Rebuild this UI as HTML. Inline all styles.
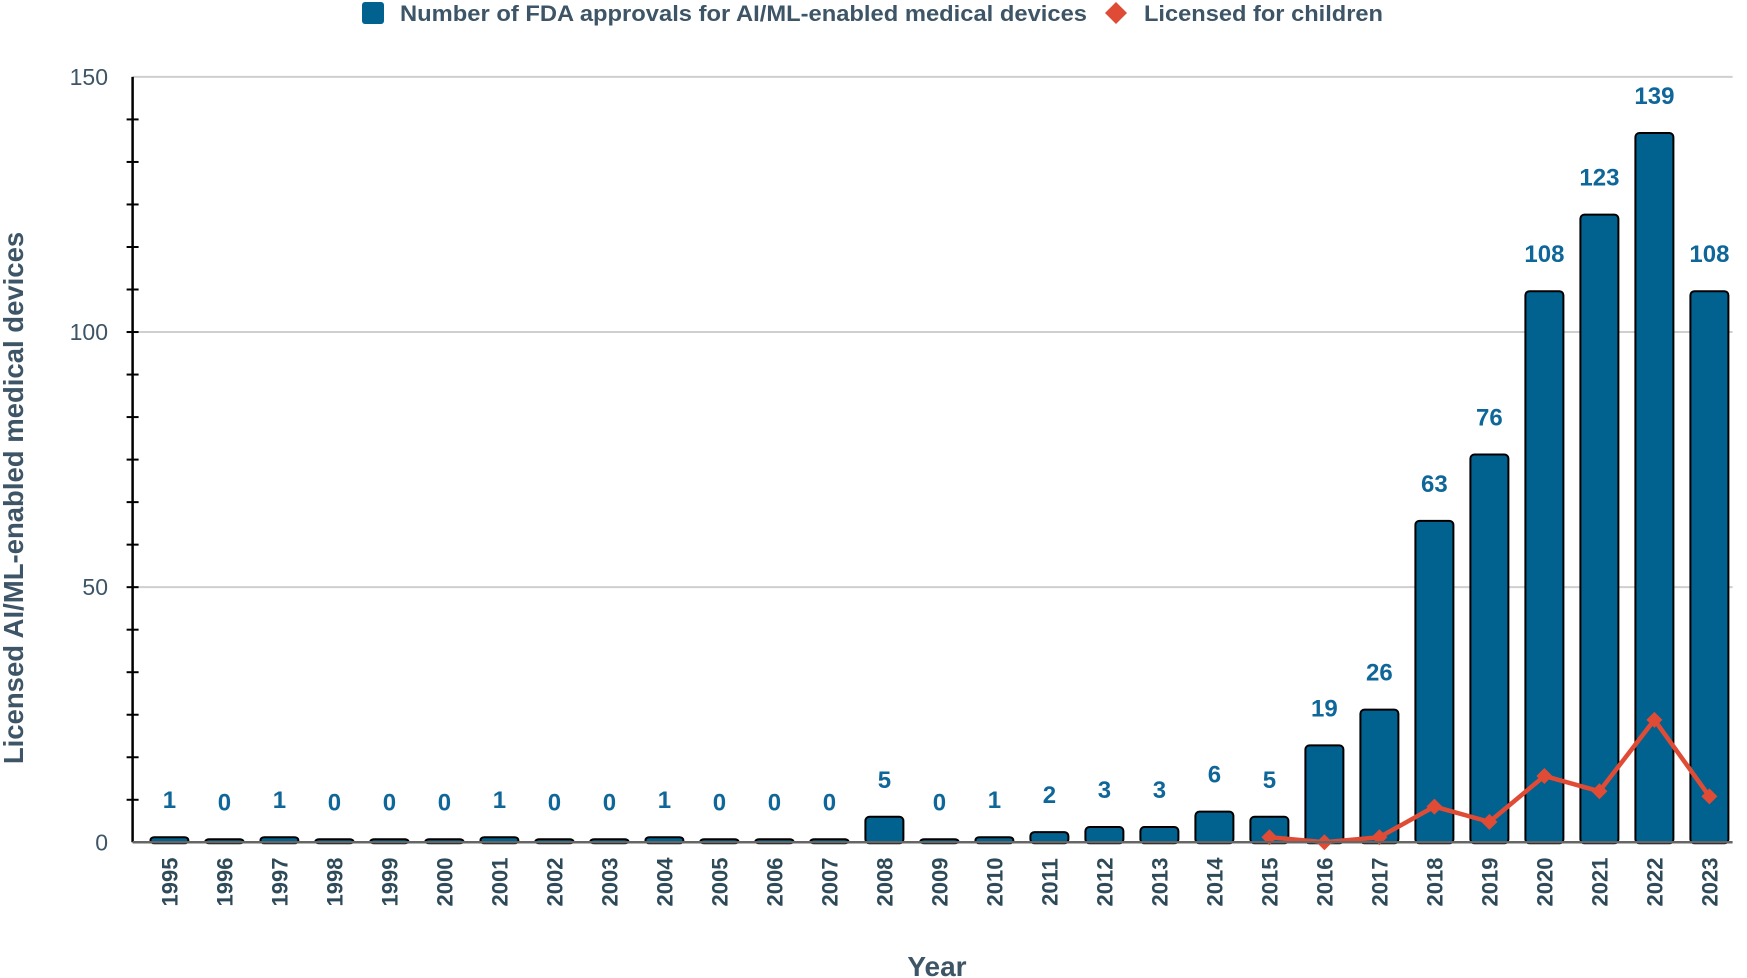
<!DOCTYPE html>
<html><head><meta charset="utf-8"><style>
html,body{margin:0;padding:0;background:#fff;}
svg{display:block;font-family:"Liberation Sans",sans-serif;}
</style></head><body>
<svg id="chart" width="1747" height="978" viewBox="0 0 1747 978">
<g>
  <rect x="362" y="2" width="22" height="22" rx="3" fill="#02628f"/>
  <text x="400" y="21" font-size="22" font-weight="bold" fill="#3d5566" textLength="687" lengthAdjust="spacingAndGlyphs">Number of FDA approvals for AI/ML-enabled medical devices</text>
  <path d="M1116 2 L1127 13 L1116 24 L1105 13 Z" fill="#e04b35"/>
  <text x="1144" y="21" font-size="22" font-weight="bold" fill="#3d5566" textLength="239" lengthAdjust="spacingAndGlyphs">Licensed for children</text>
</g>
<g id="grid"></g><g id="bars"></g><g id="line"></g><g id="axes"></g>
<text x="937" y="976" font-size="28" font-weight="bold" fill="#3d5566" text-anchor="middle">Year</text>
<text transform="translate(23,498) rotate(-90)" font-size="27.5" font-weight="bold" fill="#3d5566" text-anchor="middle">Licensed AI/ML-enabled medical devices</text>
</svg>
<script>
const years=["1995","1996","1997","1998","1999","2000","2001","2002","2003","2004","2005","2006","2007","2008","2009","2010","2011","2012","2013","2014","2015","2016","2017","2018","2019","2020","2021","2022","2023"];
const approvals=[1,0,1,0,0,0,1,0,0,1,0,0,0,5,0,1,2,3,3,6,5,19,26,63,76,108,123,139,108];
const childYears=["2015","2016","2017","2018","2019","2020","2021","2022","2023"];
const childValues=[1,0,1,7,4,13,10,24,9];
const yTicks=[0,50,100,150];

const NS="http://www.w3.org/2000/svg";
const X0=132.6,X1=1732.6,Y0=842.3,YT=76.9,YMAX=150;
const FIRST=169.4,step=55.0;
function xc(cat){return FIRST+step*years.indexOf(cat);}
function y(v){return Y0-(Y0-YT)*v/YMAX;}
function mk(tag,attrs,parent){const e=document.createElementNS(NS,tag);for(const k in attrs)e.setAttribute(k,attrs[k]);parent.appendChild(e);return e;}
const grid=document.getElementById('grid'),bars=document.getElementById('bars'),line=document.getElementById('line'),axes=document.getElementById('axes');

yTicks.forEach(t=>{
  if(t>0){const g=mk('line',{x1:X0,x2:X1,y1:y(t),y2:y(t),stroke:'#cfcfcf','stroke-width':2},grid);
  
  }
  const l=mk('text',{x:108,y:y(t)+8,'font-size':23,fill:'#3d5566','text-anchor':'end'},axes);
  l.textContent=t;
  
  
});
const minorStep=50/6;
for(let v=minorStep;v<YMAX-0.01;v+=minorStep){
  const m=mk('line',{x1:X0-6,x2:X0+6,y1:y(v),y2:y(v),stroke:'#000','stroke-width':2},axes);
  
  
}
const ya=mk('line',{x1:X0,x2:X0,y1:YT,y2:Y0,stroke:'#000','stroke-width':2.5},axes);



const bw=38;
years.forEach((yr,i)=>{
  const v=approvals[i];const cx=xc(yr);
  const top=v>0?y(v):Y0-3;
  const r=mk('rect',{x:cx-bw/2,y:top,width:bw,height:Y0-top+1,rx:4,fill:'#02628f',stroke:'#000','stroke-width':2},bars);
  
  
  const lab=mk('text',{x:cx,y:(v>0?top:y(0.5))-29,'font-size':24,'font-weight':'bold',fill:'#0e6699','text-anchor':'middle'},bars);
  lab.textContent=v;
  
  
  const t=mk('text',{transform:`translate(${cx+8},${882}) rotate(-90)`,'font-size':22,'font-weight':'bold',fill:'#2e4a59','text-anchor':'middle'},axes);
  t.textContent=yr;
  
  
});
const xa=mk('line',{x1:X0,x2:X1,y1:Y0,y2:Y0,stroke:'#666','stroke-width':2.5},axes);



const pts=childYears.map((yr,i)=>[xc(yr),y(childValues[i])]);
const pl=mk('polyline',{points:pts.map(p=>p.join(',')).join(' '),fill:'none',stroke:'#e04b35','stroke-width':4.5,'stroke-linejoin':'round'},line);


pts.forEach((p,i)=>{
  const d=mk('path',{d:`M${p[0]} ${p[1]-8} L${p[0]+8} ${p[1]} L${p[0]} ${p[1]+8} L${p[0]-8} ${p[1]} Z`,fill:'#e04b35'},line);
  
  
});
</script>
</body></html>
